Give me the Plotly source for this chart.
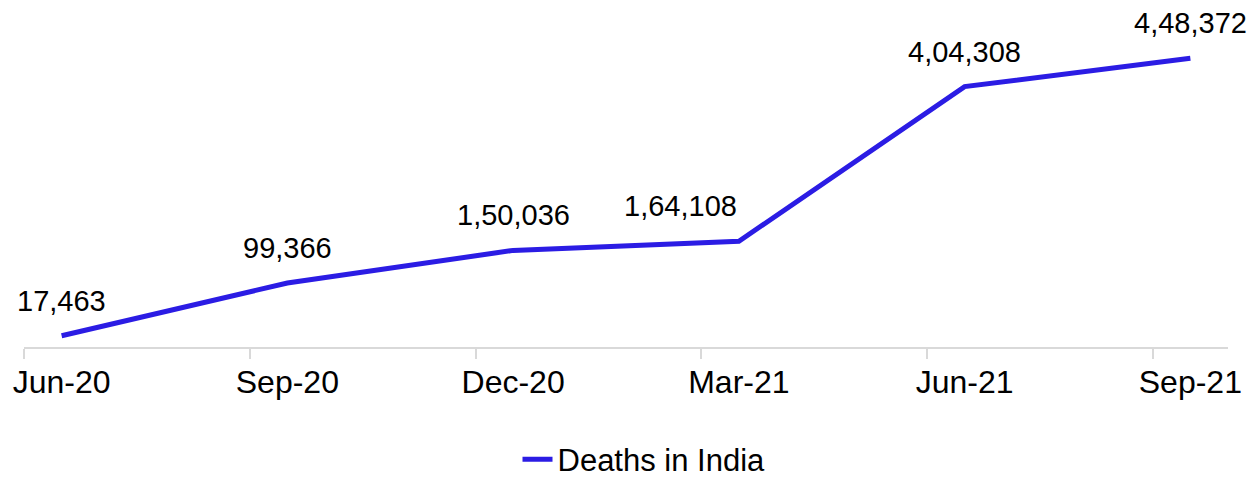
import plotly.graph_objects as go

months = ["Jun-20", "Sep-20", "Dec-20", "Mar-21", "Jun-21", "Sep-21"]
deaths = [17463, 99366, 150036, 164108, 404308, 448372]
series_name = "Deaths in India"


def indian_format(n):
    s = str(int(n))
    if len(s) <= 3:
        return s
    last3 = s[-3:]
    rest = s[:-3]
    groups = []
    while len(rest) > 2:
        groups.insert(0, rest[-2:])
        rest = rest[:-2]
    if rest:
        groups.insert(0, rest)
    return ",".join(groups) + "," + last3


xs = list(range(len(months)))
label_xshift = [0, 0, 0, -58, 0, 0]

FONT = "Liberation Sans, Arial, sans-serif"
LINE_COLOR = "#2b1ce4"
AXIS_COLOR = "#d9d9d9"

fig = go.Figure()
fig.add_trace(go.Scatter(
    x=xs, y=deaths, mode="lines", name=series_name,
    line=dict(color=LINE_COLOR, width=5),
))

for x, v, dx in zip(xs, deaths, label_xshift):
    fig.add_annotation(
        x=x, y=v, text=indian_format(v), showarrow=False,
        xanchor="center", yanchor="bottom", yshift=17, xshift=dx,
        font=dict(family=FONT, size=29, color="#000000"),
    )

fig.update_layout(
    width=1253, height=479,
    margin=dict(l=24, r=25, t=25, b=131.5, autoexpand=False),
    paper_bgcolor="white", plot_bgcolor="white",
    font=dict(family=FONT, color="#000000"),
    showlegend=True,
    legend=dict(orientation="h", x=0.5 + 18 / 1204, xanchor="center", y=-0.350,
                yanchor="middle",
                font=dict(size=31, family=FONT), bgcolor="rgba(0,0,0,0)"),
)
fig.update_xaxes(
    range=[-1/6, len(months) - 1 + 1/6],
    tickmode="array", tickvals=xs, ticktext=months,
    ticks="", showgrid=False, zeroline=False, automargin=False,
    showline=True, linecolor=AXIS_COLOR, linewidth=2,
    tickfont=dict(size=32, family=FONT, color="#000000"),
    ticklabelstandoff=6,
    minor=dict(tickmode="array", tickvals=[i - 1/6 for i in xs], ticks="outside",
               ticklen=10, tickcolor=AXIS_COLOR, tickwidth=2, showgrid=False),
)
fig.update_yaxes(range=[0, 500000], visible=False, showgrid=False, zeroline=False,
                 automargin=False)

fig.write_html("out.html")
